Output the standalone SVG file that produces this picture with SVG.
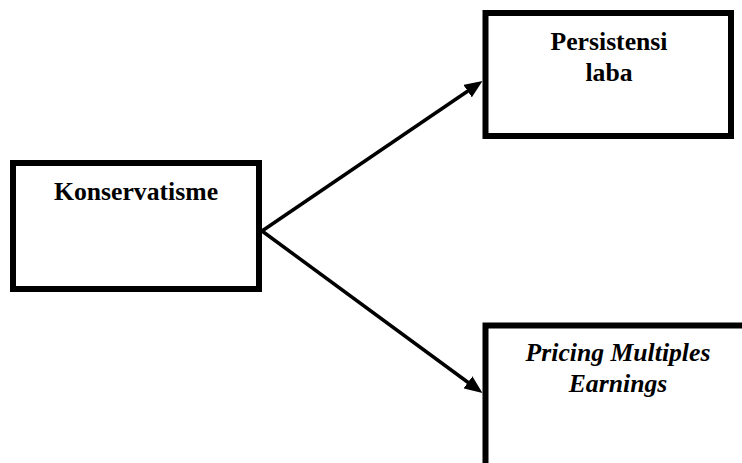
<svg xmlns="http://www.w3.org/2000/svg" width="742" height="463" viewBox="0 0 742 463">
  <style>
    .box { fill: #ffffff; stroke: #000000; stroke-width: 6; }
    .lbl { font-family: 'Liberation Serif', 'Times New Roman', Times, serif; font-size: 25.7px; font-weight: 700; fill: #000000; text-anchor: middle; }
    .it { font-style: italic; }
    .conn { stroke: #000000; stroke-width: 3.5; fill: none; }
  </style>
  <defs>
    <marker id="arrow" markerUnits="userSpaceOnUse" markerWidth="18" markerHeight="15" refX="7" refY="7.5" orient="auto">
      <path d="M0,0 L18,7.5 L0,15 z" fill="#000000"/>
    </marker>
  </defs>
  <rect width="742" height="463" fill="#ffffff"/>
  <g id="connectors">
    <line class="conn" x1="262" y1="231" x2="473.4" y2="87.2" marker-end="url(#arrow)"/>
    <line class="conn" x1="262" y1="231" x2="473.6" y2="386.5" marker-end="url(#arrow)"/>
  </g>
  <g id="konservatisme">
    <rect class="box" x="13" y="163" width="246" height="126"/>
    <text class="lbl" font-family="Liberation Serif, serif" x="136" y="200">Konservatisme</text>
  </g>
  <g id="persistensi-laba">
    <rect class="box" x="485.5" y="13" width="245.5" height="123"/>
    <text class="lbl" font-family="Liberation Serif, serif" x="609" y="49.5">Persistensi</text>
    <text class="lbl" font-family="Liberation Serif, serif" x="609" y="81">laba</text>
  </g>
  <g id="pricing-multiples-earnings">
    <rect class="box" x="485.5" y="325.5" width="270" height="150"/>
    <text class="lbl it" font-family="Liberation Serif, serif" x="618" y="361">Pricing Multiples</text>
    <text class="lbl it" font-family="Liberation Serif, serif" x="618" y="392">Earnings</text>
  </g>
</svg>
